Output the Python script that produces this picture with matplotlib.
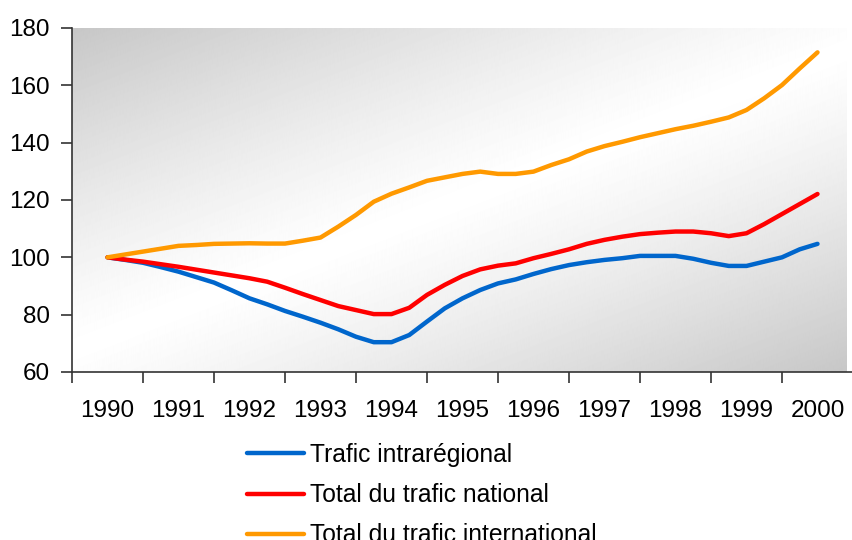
import matplotlib.pyplot as plt
import numpy as np

plt.rcParams['font.family'] = ['Liberation Sans', 'DejaVu Sans']

# quarterly index values, 1990 = 100
years = ['1990', '1991', '1992', '1993', '1994', '1995', '1996', '1997', '1998', '1999', '2000']
intraregional = [100, 99.1, 98.1, 96.6, 95.0, 93.1, 91.2, 88.5, 85.7, 83.6, 81.3, 79.3, 77.2, 74.9,
                 72.3, 70.4, 70.4, 72.9, 77.6, 82.2, 85.7, 88.6, 90.9, 92.3, 94.2, 95.9, 97.3, 98.3,
                 99.1, 99.7, 100.5, 100.5, 100.5, 99.5, 98.1, 97.0, 97.0, 98.5, 100.0, 102.8, 104.7]
national = [100, 99.2, 98.5, 97.6, 96.7, 95.7, 94.7, 93.7, 92.7, 91.5, 89.4, 87.2, 85.1, 83.0,
            81.6, 80.2, 80.2, 82.4, 86.9, 90.4, 93.5, 95.8, 97.1, 97.9, 99.7, 101.2, 102.8, 104.7,
            106.1, 107.2, 108.1, 108.6, 109.0, 109.0, 108.4, 107.4, 108.4, 111.6, 115.1, 118.6, 122.1]
international = [100, 101, 102, 103, 104, 104.3, 104.7, 104.8, 104.9, 104.8, 104.8, 105.8, 106.9, 110.7,
                 114.8, 119.4, 122.2, 124.4, 126.7, 127.9, 129.1, 129.9, 129.1, 129.1, 129.9, 132.2, 134.2,
                 136.9, 138.8, 140.3, 141.9, 143.3, 144.7, 145.9, 147.3, 148.8, 151.4, 155.5, 160.1, 165.9, 171.5]

x = np.arange(len(intraregional)) / 4.0

fig = plt.figure(figsize=(8.53, 5.40), dpi=100)
ax = fig.add_axes([72 / 853, 1 - 372 / 540, 781 / 853, 344 / 540])

xmin, xmax = -0.5, 781 / 71.6 - 0.5
ax.set_xlim(xmin, xmax)
ax.set_ylim(60, 180)

# diagonal grey -> white -> grey background
px, py = np.meshgrid(np.arange(781), np.arange(344))
d = (px - 390) * 0.359 + (py - 172) * 0.933
v = 1 - 0.22 * np.clip(np.abs(d) / 300, 0, 1) ** 1.2
ax.imshow(v, cmap='gray', vmin=0, vmax=1, extent=[xmin, xmax, 60, 180], aspect='auto', zorder=0)

ax.plot(x, intraregional, color='#0066CC', lw=3.2, label='Trafic intrarégional', solid_capstyle='round')
ax.plot(x, national, color='#FF0000', lw=3.2, label='Total du trafic national', solid_capstyle='round')
ax.plot(x, international, color='#FF9900', lw=3.2, label='Total du trafic international', solid_capstyle='round')

for s in ['top', 'right']:
    ax.spines[s].set_visible(False)
for s in ['left', 'bottom']:
    ax.spines[s].set_color('#333333')
    ax.spines[s].set_linewidth(1.2)

ax.set_yticks(range(60, 181, 20))
ax.tick_params(axis='y', length=8, width=1.2, color='#333333', pad=8, labelsize=17.5)
ax.set_xticks(range(len(years)), years)
ax.set_xticks(np.arange(-0.5, 11, 1), minor=True)
ax.tick_params(axis='x', which='major', length=0, pad=20, labelsize=17.5)
ax.tick_params(axis='x', which='minor', length=8, width=1.2, color='#333333')

fig.legend(loc='upper left', bbox_to_anchor=(247 / 853, 1 - 443 / 540), frameon=False,
           fontsize=17.7, borderpad=0, borderaxespad=0, handlelength=2.3, handletextpad=0.25,
           labelspacing=0.66)

fig.savefig('out.png', dpi=100)
